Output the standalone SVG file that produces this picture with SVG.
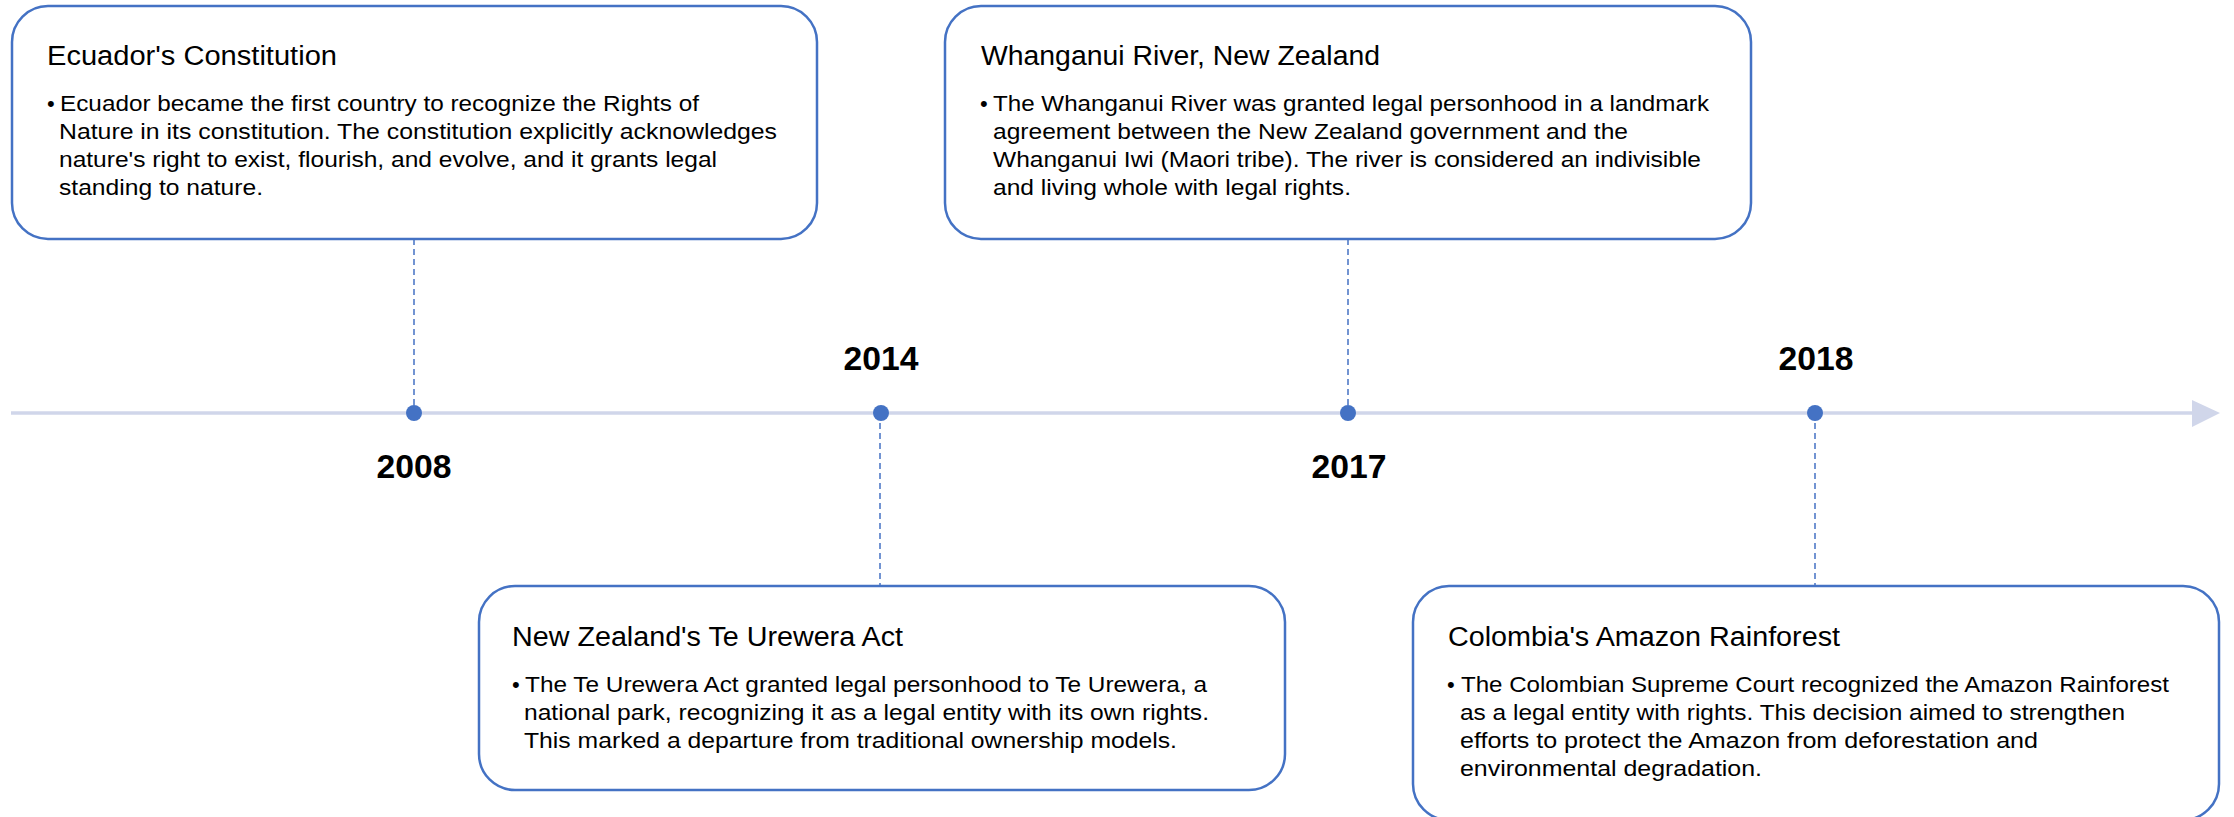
<svg xmlns="http://www.w3.org/2000/svg" width="2234" height="817" viewBox="0 0 2234 817">
<style>
.box{fill:#ffffff;stroke:#4472C4;stroke-width:2.5}
.title{font-family:"Liberation Sans",Arial,sans-serif;font-size:27px;fill:#000}
.body{font-family:"Liberation Sans",Arial,sans-serif;font-size:22px;fill:#000}
.year{font-family:"Liberation Sans",Arial,sans-serif;font-size:34px;font-weight:bold;fill:#000;text-anchor:middle}
.dash{stroke:#4472C4;stroke-width:1.5;stroke-dasharray:6,4;fill:none}
.axis{stroke:#D0D6EA;stroke-width:3.5;fill:none}
.dot{fill:#4472C4}
</style>
<rect width="2234" height="817" fill="#ffffff"/>
<g id="connectors">
<line class="axis" x1="11" y1="413" x2="2194" y2="413"/>
<polygon points="2192,400 2220,413 2192,427" fill="#D0D6EA"/>
<line class="dash" x1="414" y1="239" x2="414" y2="413"/>
<line class="dash" x1="880" y1="413" x2="880" y2="586"/>
<line class="dash" x1="1348" y1="239" x2="1348" y2="413"/>
<line class="dash" x1="1815" y1="413" x2="1815" y2="586"/>
</g>
<g id="axis-points">
<circle class="dot" cx="414" cy="413" r="8"/>
<circle class="dot" cx="881" cy="413" r="8"/>
<circle class="dot" cx="1348" cy="413" r="8"/>
<circle class="dot" cx="1815" cy="413" r="8"/>
<text class="year" x="414" y="478" textLength="75" lengthAdjust="spacingAndGlyphs">2008</text>
<text class="year" x="881" y="370" textLength="75" lengthAdjust="spacingAndGlyphs">2014</text>
<text class="year" x="1349" y="478" textLength="75" lengthAdjust="spacingAndGlyphs">2017</text>
<text class="year" x="1816" y="370" textLength="75" lengthAdjust="spacingAndGlyphs">2018</text>
</g>
<g id="node-ecuador">
<rect class="box" x="12" y="6" width="805" height="233" rx="36"/>
<text class="title" x="47" y="65" textLength="290" lengthAdjust="spacingAndGlyphs">Ecuador's Constitution</text>
<text class="body" x="47" y="111">•</text>
<text class="body" x="60" y="111" textLength="639" lengthAdjust="spacingAndGlyphs">Ecuador became the first country to recognize the Rights of</text>
<text class="body" x="59" y="139" textLength="718" lengthAdjust="spacingAndGlyphs">Nature in its constitution. The constitution explicitly acknowledges</text>
<text class="body" x="59" y="167" textLength="658" lengthAdjust="spacingAndGlyphs">nature's right to exist, flourish, and evolve, and it grants legal</text>
<text class="body" x="59" y="195" textLength="204" lengthAdjust="spacingAndGlyphs">standing to nature.</text>
</g>
<g id="node-whanganui">
<rect class="box" x="945" y="6" width="806" height="233" rx="36"/>
<text class="title" x="981" y="65" textLength="399" lengthAdjust="spacingAndGlyphs">Whanganui River, New Zealand</text>
<text class="body" x="980" y="111">•</text>
<text class="body" x="993" y="111" textLength="716" lengthAdjust="spacingAndGlyphs">The Whanganui River was granted legal personhood in a landmark</text>
<text class="body" x="993" y="139" textLength="635" lengthAdjust="spacingAndGlyphs">agreement between the New Zealand government and the</text>
<text class="body" x="993" y="167" textLength="708" lengthAdjust="spacingAndGlyphs">Whanganui Iwi (Maori tribe). The river is considered an indivisible</text>
<text class="body" x="993" y="195" textLength="358" lengthAdjust="spacingAndGlyphs">and living whole with legal rights.</text>
</g>
<g id="node-teurewera">
<rect class="box" x="479" y="586" width="806" height="204" rx="36"/>
<text class="title" x="512" y="646" textLength="391" lengthAdjust="spacingAndGlyphs">New Zealand's Te Urewera Act</text>
<text class="body" x="512" y="692">•</text>
<text class="body" x="525" y="692" textLength="682" lengthAdjust="spacingAndGlyphs">The Te Urewera Act granted legal personhood to Te Urewera, a</text>
<text class="body" x="524" y="720" textLength="685" lengthAdjust="spacingAndGlyphs">national park, recognizing it as a legal entity with its own rights.</text>
<text class="body" x="524" y="748" textLength="653" lengthAdjust="spacingAndGlyphs">This marked a departure from traditional ownership models.</text>
</g>
<g id="node-colombia">
<rect class="box" x="1413" y="586" width="806" height="234" rx="36"/>
<text class="title" x="1448" y="646" textLength="392" lengthAdjust="spacingAndGlyphs">Colombia's Amazon Rainforest</text>
<text class="body" x="1447" y="692">•</text>
<text class="body" x="1461" y="692" textLength="708" lengthAdjust="spacingAndGlyphs">The Colombian Supreme Court recognized the Amazon Rainforest</text>
<text class="body" x="1460" y="720" textLength="665" lengthAdjust="spacingAndGlyphs">as a legal entity with rights. This decision aimed to strengthen</text>
<text class="body" x="1460" y="748" textLength="578" lengthAdjust="spacingAndGlyphs">efforts to protect the Amazon from deforestation and</text>
<text class="body" x="1460" y="776" textLength="302" lengthAdjust="spacingAndGlyphs">environmental degradation.</text>
</g>
</svg>
